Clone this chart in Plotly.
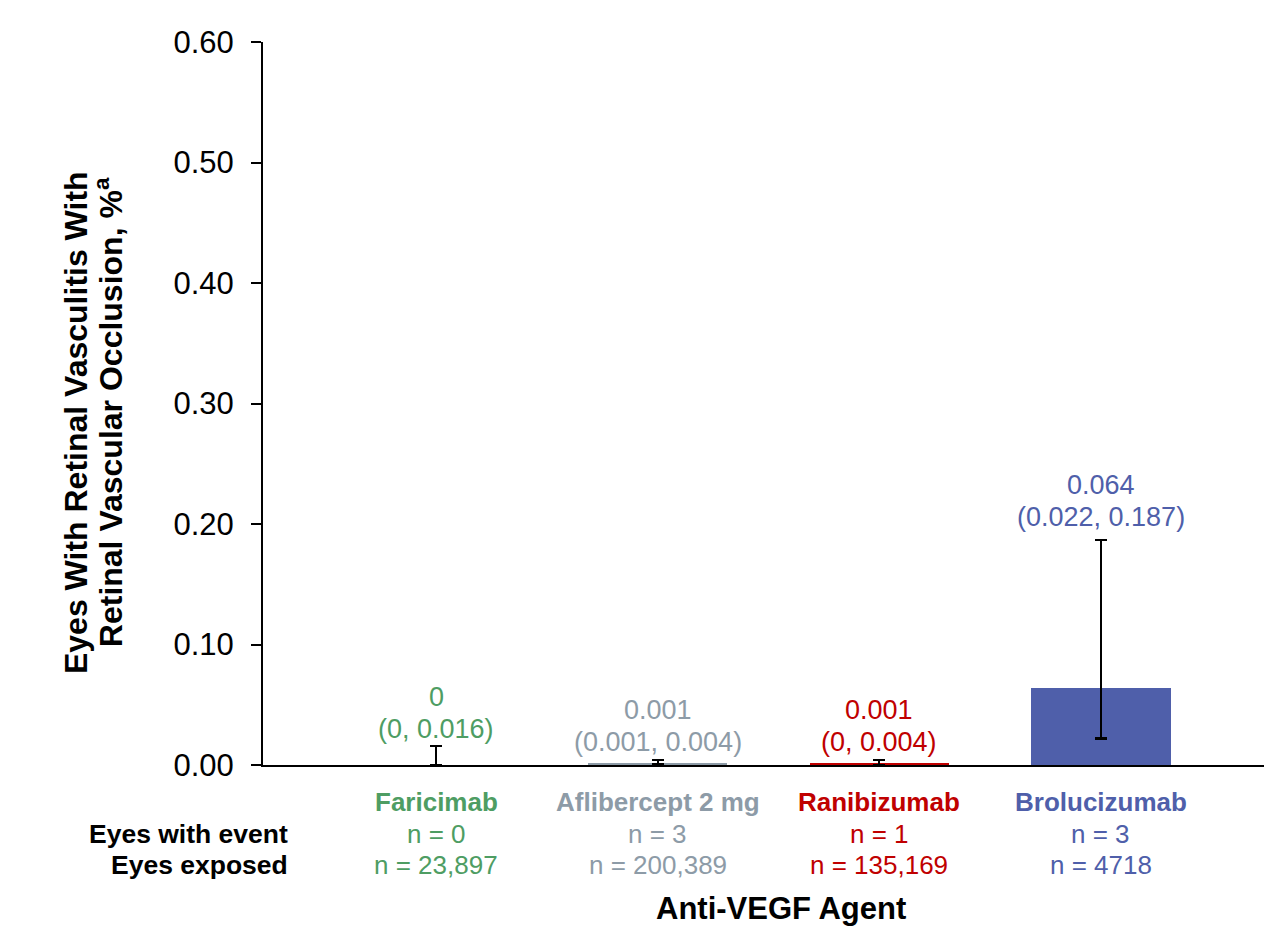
import plotly.graph_objects as go

# ---- data ----
agents = ["Faricimab", "Aflibercept 2 mg", "Ranibizumab", "Brolucizumab"]
rate = [0.0, 0.001, 0.001, 0.064]
ci_low = [0.0, 0.001, 0.0, 0.022]
ci_high = [0.016, 0.004, 0.004, 0.187]
eyes_event = ["0", "3", "1", "3"]
eyes_exposed = ["23,897", "200,389", "135,169", "4718"]
rate_lbl = ["0", "0.001", "0.001", "0.064"]
ci_lbl = ["(0, 0.016)", "(0.001, 0.004)", "(0, 0.004)", "(0.022, 0.187)"]

# ---- style ----
colors = ["#4E9D63", "#8D9BA7", "#C00000", "#4F5FAA"]
FONT = "Liberation Sans, Arial, sans-serif"
line2_off = [17, 18, 18, 23]
line1_off = [49, 50, 50, 55]

fig = go.Figure()
fig.add_trace(go.Bar(
    x=agents, y=rate, marker=dict(color=colors, line=dict(width=0)), width=0.628,
    error_y=dict(type="data", symmetric=False,
                 array=[h - r for h, r in zip(ci_high, rate)],
                 arrayminus=[r - l for r, l in zip(rate, ci_low)],
                 color="black", thickness=2.2, width=6),
    showlegend=False, hoverinfo="skip",
))

ann = []
for i, a in enumerate(agents):
    c = colors[i]
    ann.append(dict(x=a, y=ci_high[i], xref="x", yref="y", text=ci_lbl[i], showarrow=False,
                    yanchor="middle", yshift=line2_off[i], font=dict(size=27, color=c, family=FONT)))
    ann.append(dict(x=a, y=ci_high[i], xref="x", yref="y", text=rate_lbl[i], showarrow=False,
                    yanchor="middle", yshift=line1_off[i], font=dict(size=27, color=c, family=FONT)))
    ann.append(dict(x=a, y=0, xref="x", yref="paper", text="<b>" + a + "</b>", showarrow=False,
                    yanchor="middle", yshift=-37, font=dict(size=26, color=c, family=FONT)))
    ann.append(dict(x=a, y=0, xref="x", yref="paper", text="n = " + eyes_event[i], showarrow=False,
                    yanchor="middle", yshift=-69, font=dict(size=26, color=c, family=FONT)))
    ann.append(dict(x=a, y=0, xref="x", yref="paper", text="n = " + eyes_exposed[i], showarrow=False,
                    yanchor="middle", yshift=-100, font=dict(size=26, color=c, family=FONT)))

ann.append(dict(x=0, y=0, xref="paper", yref="paper", text="<b>Eyes with event</b>", showarrow=False,
                xanchor="right", yanchor="middle", xshift=27, yshift=-69,
                font=dict(size=26.5, color="black", family=FONT)))
ann.append(dict(x=0, y=0, xref="paper", yref="paper", text="<b>Eyes exposed</b>", showarrow=False,
                xanchor="right", yanchor="middle", xshift=27, yshift=-100,
                font=dict(size=26.5, color="black", family=FONT)))
ann.append(dict(x=0, y=0, xref="paper", yref="paper", text="<b>Anti-VEGF Agent</b>", showarrow=False,
                xanchor="center", yanchor="middle", xshift=781 - 263, yshift=-143,
                font=dict(size=31, color="black", family=FONT)))
ann.append(dict(x=0, y=0.473, xref="paper", yref="paper", text="<b>Eyes With Retinal Vasculitis With</b>",
                showarrow=False, textangle=-90, xanchor="center", yanchor="middle", xshift=76 - 263,
                font=dict(size=32, color="black", family=FONT)))
ann.append(dict(x=0, y=0.488, xref="paper", yref="paper",
                text="<b>Retinal Vascular Occlusion, %<sup>a</sup></b>",
                showarrow=False, textangle=-90, xanchor="center", yanchor="middle", xshift=109 - 263,
                font=dict(size=32, color="black", family=FONT)))

# page body has an 8px margin, so the figure is laid out 8px smaller and offset
fig.update_layout(
    width=1264, height=918,
    margin=dict(l=255, r=0, t=34, b=161),
    plot_bgcolor="white", paper_bgcolor="white",
    font=dict(family=FONT, color="black"),
    annotations=ann,
    xaxis=dict(range=[-0.781, 3.772], showticklabels=False, showline=True, linecolor="black",
               linewidth=2.2, ticks="", showgrid=False, zeroline=False, fixedrange=True),
    yaxis=dict(range=[0, 0.6], dtick=0.1, tick0=0, tickformat=".2f", showline=True, linecolor="black",
               linewidth=2, ticks="outside", ticklen=10, tickwidth=2, tickcolor="black",
               showgrid=False, zeroline=False, tickfont=dict(size=31, family=FONT, color="black"),
               ticklabelstandoff=11),
    bargap=0,
)

fig.write_html("out.html")
